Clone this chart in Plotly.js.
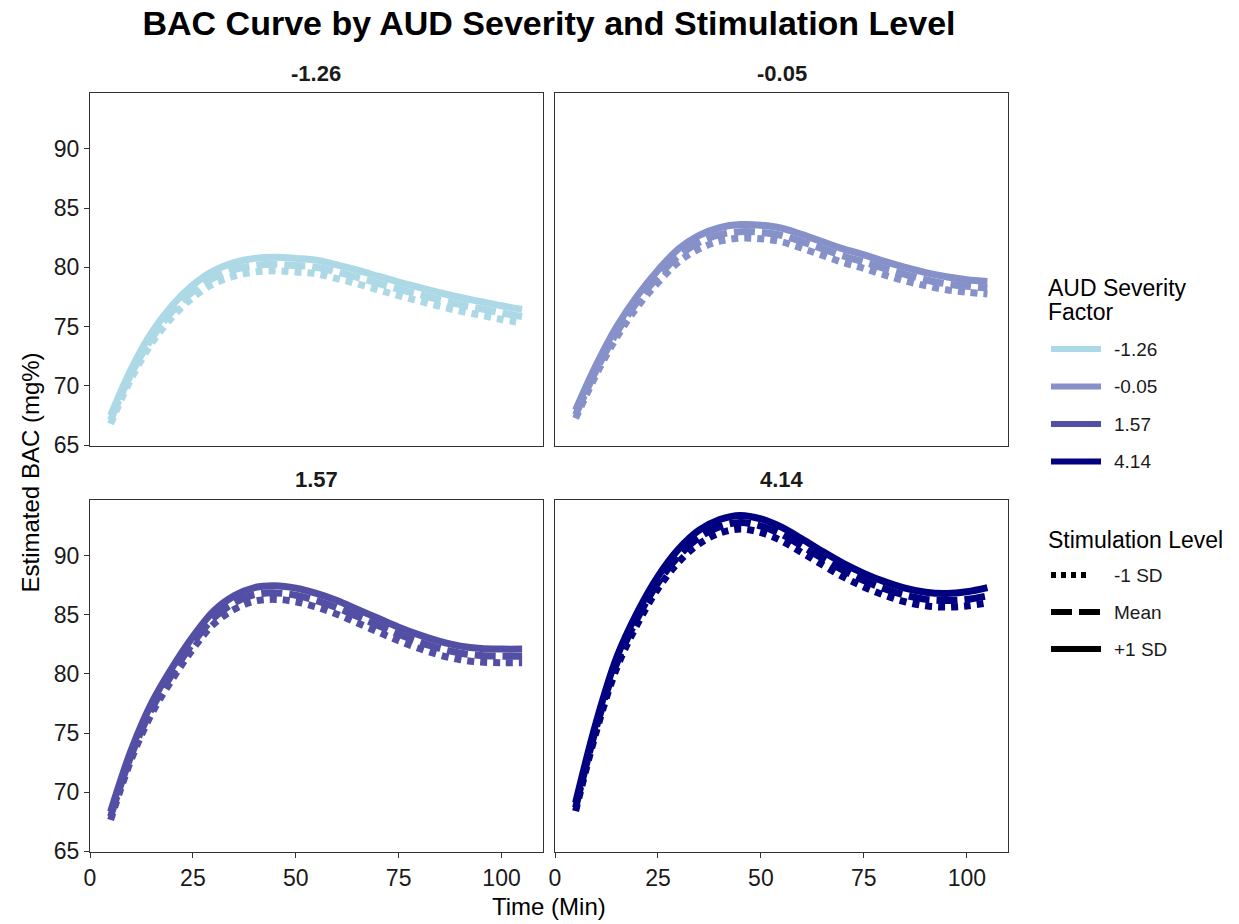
<!DOCTYPE html>
<html>
<head>
<meta charset="utf-8">
<script src="https://cdn.plot.ly/plotly-3.0.1.min.js"></script>
<style>html,body{margin:0;padding:0;background:#fff}#chart{width:1239px;height:924px}</style>
</head>
<body>
<div id="chart"></div>
<script>
// ---- data ----
const timeMin = [5,10,15,20,25,30,35,40,45,50,55,60,65,70,75,80,85,90,95,100,105];
const severityLevels = ['-1.26','-0.05','1.57','4.14'];
const severityColors = ['#ADD8E6','#8591C8','#534FA5','#000080'];
const stimLevels = ['-1 SD','Mean','+1 SD'];
const stimDash = ['7px,6px','21px,7px','solid'];
const legendDash = ['5px,5px','21px,7px','solid'];

// AUD severity -1.26
const sevM126_low  = [66.8,70.6,73.6,75.8,77.45,78.6,79.25,79.6,79.7,79.6,79.45,79.05,78.6,78.1,77.6,77.15,76.7,76.3,75.95,75.6,75.3];
const sevM126_mean = [67.1,71.0,74.0,76.3,77.95,79.1,79.8,80.15,80.25,80.15,80.0,79.6,79.15,78.65,78.15,77.7,77.25,76.85,76.5,76.15,75.85];
const sevM126_high = [67.5,71.4,74.5,76.8,78.5,79.7,80.4,80.75,80.85,80.75,80.6,80.2,79.75,79.25,78.75,78.3,77.85,77.45,77.1,76.75,76.45];
// AUD severity -0.05
const sevM005_low  = [67.25,70.95,74.1,76.65,78.7,80.45,81.55,82.2,82.45,82.4,82.15,81.6,81.0,80.4,79.9,79.35,78.85,78.45,78.1,77.9,77.75];
const sevM005_mean = [67.55,71.3,74.5,77.1,79.2,80.95,82.1,82.75,83.0,82.95,82.7,82.15,81.55,80.95,80.45,79.9,79.4,78.95,78.6,78.4,78.25];
const sevM005_high = [67.95,71.75,75.0,77.6,79.75,81.55,82.7,83.35,83.6,83.55,83.3,82.75,82.15,81.55,81.05,80.5,80.0,79.55,79.2,78.95,78.8];
// AUD severity 1.57
const sev157_low  = [67.65,72.75,76.65,79.55,82.1,84.2,85.45,86.15,86.3,86.1,85.65,85.05,84.3,83.55,82.8,82.15,81.6,81.2,81.0,80.95,80.95];
const sev157_mean = [67.95,73.1,77.05,80.0,82.6,84.7,86.0,86.7,86.85,86.65,86.2,85.6,84.85,84.1,83.35,82.7,82.15,81.75,81.55,81.5,81.5];
const sev157_high = [68.35,73.55,77.55,80.55,83.15,85.3,86.6,87.3,87.45,87.25,86.8,86.2,85.45,84.7,83.95,83.3,82.75,82.35,82.15,82.1,82.1];
// AUD severity 4.14
const sev414_low  = [68.4,75.1,80.5,84.2,87.2,89.45,91.0,91.9,92.25,91.95,91.25,90.25,89.2,88.2,87.35,86.65,86.1,85.75,85.65,85.75,86.0];
const sev414_mean = [68.7,75.45,80.9,84.7,87.7,89.95,91.55,92.45,92.8,92.5,91.8,90.8,89.75,88.75,87.9,87.2,86.65,86.3,86.2,86.3,86.6];
const sev414_high = [69.1,75.9,81.4,85.2,88.25,90.55,92.15,93.05,93.4,93.1,92.4,91.4,90.35,89.35,88.5,87.8,87.25,86.9,86.8,86.95,87.3];

const xTicks = [0,25,50,75,100];
const yTicks = [65,70,75,80,85,90];

// ---- build ----
const seriesByPanel = [
  [sevM126_low, sevM126_mean, sevM126_high],
  [sevM005_low, sevM005_mean, sevM005_high],
  [sev157_low, sev157_mean, sev157_high],
  [sev414_low, sev414_mean, sev414_high]
];
const axisIds = [['x','y'],['x2','y2'],['x3','y3'],['x4','y4']];
const FONT = 'Liberation Sans, Arial, Helvetica, sans-serif';

const traces = [];
seriesByPanel.forEach((set, p) => {
  set.forEach((vals, s) => {
    traces.push({
      type: 'scatter', mode: 'lines',
      x: timeMin, y: vals,
      xaxis: axisIds[p][0], yaxis: axisIds[p][1],
      name: severityLevels[p] + ' / ' + stimLevels[s],
      line: {color: severityColors[p], width: 7, dash: stimDash[s], shape: 'spline', smoothing: 1},
      showlegend: false, hoverinfo: 'x+y+name'
    });
  });
});

const W = 1239, H = 924;
const mL = 90, mR = 231, mT = 93, mB = 72;
const pw = W - mL - mR, ph = H - mT - mB;
const px2x = px => (px - mL) / pw;
const py2y = py => (H - mB - py) / ph;

const xLeft = [0, px2x(542.7)], xRight = [px2x(555), 1];
const yTop = [py2y(445.7), 1], yBot = [0, py2y(500)];

function xa(domain, anchor, showLabels) {
  return {
    domain, anchor, range: [0, 110], tickvals: xTicks,
    showgrid: false, zeroline: false, showline: true, mirror: true,
    linecolor: '#333', linewidth: 1.3,
    ticks: showLabels ? 'outside' : '', ticklen: 5, tickwidth: 1.3, tickcolor: '#333',
    showticklabels: showLabels,
    tickfont: {family: FONT, size: 23, color: '#1a1a1a'}
  };
}
function ya(domain, anchor, showLabels) {
  return {
    domain, anchor, range: [64.95, 94.7], tickvals: yTicks,
    showgrid: false, zeroline: false, showline: true, mirror: true,
    linecolor: '#333', linewidth: 1.3,
    ticks: showLabels ? 'outside' : '', ticklen: 5, tickwidth: 1.3, tickcolor: '#333',
    showticklabels: showLabels,
    tickfont: {family: FONT, size: 23, color: '#1a1a1a'}
  };
}

const annotations = [];
const stripPos = [
  [(xLeft[0]+xLeft[1])/2, yTop[1]], [(xRight[0]+xRight[1])/2, yTop[1]],
  [(xLeft[0]+xLeft[1])/2, yBot[1]], [(xRight[0]+xRight[1])/2, yBot[1]]
];
severityLevels.forEach((lab, i) => {
  annotations.push({
    text: '<b>' + lab + '</b>', xref: 'paper', yref: 'paper',
    x: stripPos[i][0], y: stripPos[i][1] + 20/ph,
    xanchor: 'center', yanchor: 'middle', showarrow: false,
    font: {family: FONT, size: 22, color: '#1a1a1a'}
  });
});
annotations.push({
  text: 'Time (Min)', xref: 'paper', yref: 'paper', x: 0.5, y: py2y(906),
  xanchor: 'center', yanchor: 'middle', showarrow: false,
  font: {family: FONT, size: 24, color: '#000'}
});
annotations.push({
  text: 'Estimated BAC (mg%)', xref: 'paper', yref: 'paper', x: px2x(30), y: 0.5,
  xanchor: 'center', yanchor: 'middle', textangle: -90, showarrow: false,
  font: {family: FONT, size: 24, color: '#000'}
});

// legend (drawn manually)
const shapes = [];
const legTitleX = px2x(1046);
const keyX0 = px2x(1051), keyX1 = px2x(1101), labX = px2x(1112);
annotations.push({text: 'AUD Severity', xref: 'paper', yref: 'paper', x: legTitleX, y: py2y(288),
  xanchor: 'left', yanchor: 'middle', showarrow: false, font: {family: FONT, size: 23, color: '#000'}});
annotations.push({text: 'Factor', xref: 'paper', yref: 'paper', x: legTitleX, y: py2y(312),
  xanchor: 'left', yanchor: 'middle', showarrow: false, font: {family: FONT, size: 23, color: '#000'}});
const sevLegY = [349, 386.5, 424, 461.5];
severityLevels.forEach((lab, i) => {
  shapes.push({type: 'line', xref: 'paper', yref: 'paper', x0: keyX0, x1: keyX1,
    y0: py2y(sevLegY[i]), y1: py2y(sevLegY[i]), line: {color: severityColors[i], width: 6}});
  annotations.push({text: lab, xref: 'paper', yref: 'paper', x: labX, y: py2y(sevLegY[i]),
    xanchor: 'left', yanchor: 'middle', showarrow: false, font: {family: FONT, size: 19, color: '#1a1a1a'}});
});
annotations.push({text: 'Stimulation Level', xref: 'paper', yref: 'paper', x: legTitleX, y: py2y(540),
  xanchor: 'left', yanchor: 'middle', showarrow: false, font: {family: FONT, size: 23, color: '#000'}});
const stimLegY = [575, 612, 649];
const stimKeyEnd = [px2x(1091), keyX1, keyX1];
stimLevels.forEach((lab, i) => {
  shapes.push({type: 'line', xref: 'paper', yref: 'paper', x0: keyX0, x1: stimKeyEnd[i],
    y0: py2y(stimLegY[i]), y1: py2y(stimLegY[i]), line: {color: '#000', width: 6, dash: legendDash[i]}});
  annotations.push({text: lab, xref: 'paper', yref: 'paper', x: labX, y: py2y(stimLegY[i]),
    xanchor: 'left', yanchor: 'middle', showarrow: false, font: {family: FONT, size: 19, color: '#1a1a1a'}});
});

const layout = {
  width: W, height: H,
  margin: {l: mL, r: mR, t: mT, b: mB, pad: 0},
  paper_bgcolor: '#fff', plot_bgcolor: '#fff',
  font: {family: FONT, color: '#000'},
  title: {text: '<b>BAC Curve by AUD Severity and Stimulation Level</b>', x: 0.5, xref: 'paper', xanchor: 'center',
    y: 1 - 23/H, yref: 'container', yanchor: 'middle', font: {family: FONT, size: 34, color: '#000'}},
  showlegend: false,
  xaxis: xa(xLeft, 'y', false),
  yaxis: ya(yTop, 'x', true),
  xaxis2: xa(xRight, 'y2', false),
  yaxis2: ya(yTop, 'x2', false),
  xaxis3: xa(xLeft, 'y3', true),
  yaxis3: ya(yBot, 'x3', true),
  xaxis4: xa(xRight, 'y4', true),
  yaxis4: ya(yBot, 'x4', false),
  annotations, shapes
};

Plotly.newPlot('chart', traces, layout, {displayModeBar: false, responsive: false});
</script>
</body>
</html>
